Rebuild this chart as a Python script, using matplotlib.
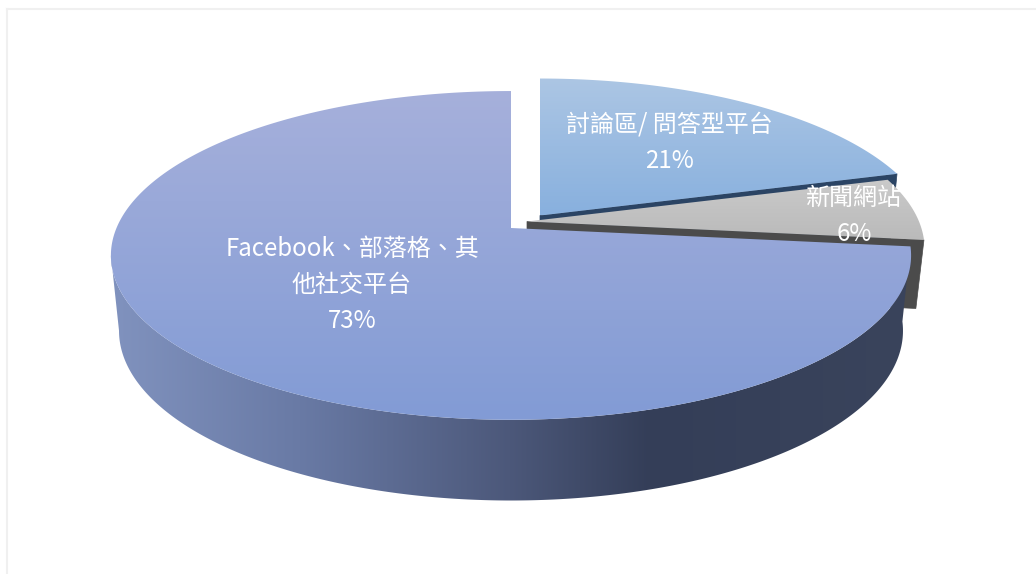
import numpy as np
import matplotlib
matplotlib.use("Agg")
import matplotlib.pyplot as plt
from matplotlib.patches import Polygon

plt.rcParams['font.family'] = ['Noto Sans CJK TC', 'DejaVu Sans']

categories = ["Facebook、部落格、其\n他社交平台", "討論區/ 問答型平台", "新聞網站"]
values = [73.2, 20.6, 6.2]

# pixel geometry of the tilted pie
PERSP = 1 / 6
RY = 159.8
RY_LOW = 165
DROP = 74.5

fig = plt.figure(figsize=(10.36, 5.74), dpi=100)
ax = fig.add_axes([0, 0, 1, 1])
ax.axis("off")

# faint frame of the screenshot
ax.plot([7, 7], [574, 9], color="#f0f0f0", lw=1.5)
ax.plot([7, 1036], [9, 9], color="#f0f0f0", lw=1.5)


def project(theta, cx, cy, rx, ry=RY):
    # theta in degrees clockwise from 12 o'clock, circle seen in perspective
    t = np.radians(theta)
    u, v = np.sin(t), np.cos(t)
    w = 1 + PERSP * v
    return cx + rx * u / w, cy - ry * v / w


def top_face(a0, a1, cx, cy, rx, c_top, c_bottom, z):
    th = np.linspace(a0, a1, 300)
    x, y = project(th, cx, cy, rx)
    pts = np.column_stack([np.r_[cx, x], np.r_[cy, y]])
    poly = Polygon(pts, closed=True, fc="none", ec="none", zorder=z)
    ax.add_patch(poly)
    y0, y1 = min(y.min(), cy), max(y.max(), cy)
    ramp = np.linspace(0, 1, 256)[:, None, None]
    grad = np.array(c_top)[None, None, :] * (1 - ramp) + np.array(c_bottom)[None, None, :] * ramp
    im = ax.imshow(grad / 255, extent=[min(x.min(), cx) - 2, max(x.max(), cx) + 2, y1, y0], aspect="auto", zorder=z)
    im.set_clip_path(poly)


def cut_face(apex, theta, rx, drop, color, z):
    cx, cy = apex
    x0, y0 = project(theta, cx, cy, rx)
    x1, y1 = project(theta, cx, cy + drop, rx - 8, RY_LOW)
    ax.add_patch(Polygon([(cx, cy), (x0, y0), (x1, y1), (cx, cy + drop)], fc=color, ec=color, lw=0.5, zorder=z))


def outer_wall(a0, a1, cx, cy, rx, z):
    stop_x = [115, 300, 510, 650, 910]
    stop_r = [128, 105, 76, 52, 58]
    stop_g = [146, 122, 88, 62, 68]
    stop_b = [190, 165, 122, 88, 92]
    th = np.linspace(a0, a1, 500)
    x0, y0 = project(th, cx, cy, rx)
    x1, y1 = project(th, cx, cy + DROP, rx - 8, RY_LOW)
    # join the two arcs at their leftmost points so the silhouette is straight
    i0, i1 = np.argmin(x0), np.argmin(x1)
    pts = np.column_stack([np.r_[x0[:i0 + 1], x1[:i1 + 1][::-1]], np.r_[y0[:i0 + 1], y1[:i1 + 1][::-1]]])
    poly = Polygon(pts, closed=True, fc="none", ec="none", zorder=z)
    ax.add_patch(poly)
    xs = np.linspace(100, 920, 820)
    grad = np.dstack([np.interp(xs, stop_x, stop_r), np.interp(xs, stop_x, stop_g), np.interp(xs, stop_x, stop_b)])
    im = ax.imshow(grad / 255, extent=[100, 920, 520, 200], aspect="auto", zorder=z)
    im.set_clip_path(poly)


# sweep angles from the values: first slice runs counter-clockwise from the top
total = sum(values)
main_sweep = values[0] / total * 360
blue_end = values[1] / total * 360
gray_end = blue_end + values[2] / total * 360

main_apex = (511, 228)
blue_apex = (540, 215.5)
gray_apex = (527, 221.5)
main_rx, blue_rx, gray_rx = 394.5, 388, 392

# blue slice
cut_face(blue_apex, blue_end, blue_rx, DROP, "#2b4464", 1)
top_face(0, blue_end, blue_apex[0], blue_apex[1], blue_rx, (172, 198, 228), (136, 176, 222), 2)

# grey slice
cut_face(gray_apex, gray_end, gray_rx, 68, "#4b4b4b", 3)
top_face(blue_end, gray_end, gray_apex[0], gray_apex[1], gray_rx, (202, 202, 202), (186, 186, 186), 4)

# main slice, only the front part of the wall can be seen
outer_wall(360 - main_sweep, 300, main_apex[0], main_apex[1], main_rx, 5)
top_face(360 - main_sweep, 360, main_apex[0], main_apex[1], main_rx, (166, 176, 219), (130, 155, 213), 6)

# labels
label_pos = [(352, 249), (669, 125), (854, 198)]
for cat, val, (lx, ly) in zip(categories, values, label_pos):
    lines = cat.split("\n") + [f"{round(val)}%"]
    for i, line in enumerate(lines):
        ax.text(lx, ly + i * 36, line, color="white", fontsize=17.3, ha="center", va="center", zorder=10)

ax.set_xlim(0, 1036)
ax.set_ylim(574, 0)
fig.savefig("out.png", dpi=100)
